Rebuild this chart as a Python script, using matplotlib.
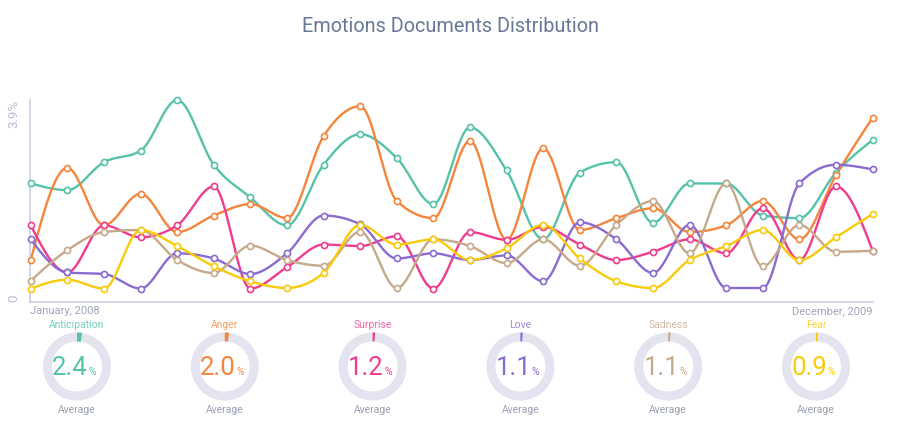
import numpy as np
import matplotlib
matplotlib.use("Agg")
import matplotlib.pyplot as plt
from matplotlib.patches import Wedge

plt.rcParams['font.family'] = ['Roboto', 'DejaVu Sans']

# ---------------- data ----------------
months = ["January, 2008", "December, 2009"]
emotions = ["Anticipation", "Anger", "Surprise", "Love", "Sadness", "Fear"]
colors = ["#55c2a9", "#f4853b", "#ef3c8e", "#8a6bd0", "#c6a98a", "#f8cb0a"]
averages = [2.4, 2.0, 1.2, 1.1, 1.1, 0.9]

anticipation = [2.29, 2.16, 2.70, 2.92, 3.90, 2.65, 2.02, 1.48, 2.65, 3.24, 2.78, 1.89,
                3.37, 2.54, 1.21, 2.50, 2.70, 1.53, 2.29, 2.29, 1.67, 1.62, 2.50, 3.13]
anger = [0.81, 2.59, 1.48, 2.09, 1.35, 1.67, 1.89, 1.62, 3.20, 3.78, 1.95, 1.62,
         3.11, 1.20, 2.97, 1.39, 1.62, 1.81, 1.35, 1.48, 1.95, 1.21, 2.45, 3.56]
surprise = [1.48, 0.57, 1.48, 1.25, 1.48, 2.23, 0.26, 0.67, 1.11, 1.08, 1.27, 0.26,
            1.35, 1.20, 1.45, 1.11, 0.81, 0.97, 1.21, 0.94, 1.81, 0.81, 2.23, 0.99]
love = [1.21, 0.57, 0.54, 0.26, 0.94, 0.84, 0.54, 0.94, 1.67, 1.50, 0.84, 0.94,
        0.81, 0.90, 0.40, 1.54, 1.21, 0.56, 1.49, 0.27, 0.27, 2.29, 2.65, 2.56]
sadness = [0.41, 1.00, 1.35, 1.39, 0.81, 0.56, 1.09, 0.81, 0.70, 1.36, 0.27, 1.21,
           1.08, 0.75, 1.21, 0.70, 1.49, 1.95, 0.94, 2.29, 0.69, 1.49, 0.97, 0.99]
fear = [0.26, 0.43, 0.26, 1.39, 1.08, 0.69, 0.40, 0.27, 0.56, 1.49, 1.11, 1.21,
        0.81, 1.04, 1.49, 0.84, 0.40, 0.27, 0.81, 1.08, 1.39, 0.81, 1.25, 1.70]
series = [anticipation, anger, surprise, love, sadness, fear]
y_max = 3.9


def monotone_x(x, y, n=30):
    """d3 curveMonotoneX style interpolation."""
    x = np.asarray(x, float)
    y = np.asarray(y, float)
    m = len(x)
    h = np.diff(x)
    s = np.diff(y) / h
    t = np.zeros(m)
    for i in range(1, m - 1):
        h0, h1 = h[i - 1], h[i]
        s0, s1 = s[i - 1], s[i]
        p = (s0 * h1 + s1 * h0) / (h0 + h1)
        t[i] = (np.sign(s0) + np.sign(s1)) * min(abs(s0), abs(s1), 0.5 * abs(p))
    t[0] = (3 * s[0] - t[1]) / 2
    t[-1] = (3 * s[-1] - t[-2]) / 2
    xs, ys = [], []
    for i in range(m - 1):
        u = np.linspace(0, 1, n, endpoint=(i == m - 2))
        hh = h[i]
        h00 = 2 * u**3 - 3 * u**2 + 1
        h10 = u**3 - 2 * u**2 + u
        h01 = -2 * u**3 + 3 * u**2
        h11 = u**3 - u**2
        xs.append(x[i] + u * hh)
        ys.append(h00 * y[i] + h10 * hh * t[i] + h01 * y[i + 1] + h11 * hh * t[i + 1])
    return np.concatenate(xs), np.concatenate(ys)


W, H = 900, 429
fig = plt.figure(figsize=(W / 100, H / 100), dpi=100)
fig.patch.set_facecolor("white")

# main line chart
left, right, top, bottom = 30, 873, 100, 302
ax = fig.add_axes([left / W, (H - bottom) / H, (right - left) / W, (bottom - top) / H])
ax.set_xlim(-0.02, 23.01)
ax.set_ylim(0, y_max)
for sp in ["top", "right"]:
    ax.spines[sp].set_visible(False)
for sp in ["left", "bottom"]:
    ax.spines[sp].set_color("#c9cfe3")
    ax.spines[sp].set_linewidth(1.2)
ax.set_xticks([])
ax.set_yticks([])
ax.patch.set_alpha(0)

xi = np.arange(len(anticipation))
for vals, c in zip(series, colors):
    sx, sy = monotone_x(xi, vals)
    ax.plot(sx, sy, color=c, lw=1.7, clip_on=False, solid_capstyle="round", zorder=2)
for vals, c in zip(series, colors):
    ax.plot(xi, vals, ls="none", marker="o", ms=4.4, mfc="white", mec=c, mew=1.2,
            clip_on=False, zorder=3)

tick_col = "#b9bdcf"
ax.text(-0.011, 1.0, "3.9%", transform=ax.transAxes, rotation=90, ha="right", va="top",
        fontsize=9.5, color=tick_col)
ax.text(-0.011, 0.0, "0", transform=ax.transAxes, rotation=90, ha="right", va="bottom",
        fontsize=9.5, color=tick_col)
ax.text(0.0, -0.02, months[0], transform=ax.transAxes, ha="left", va="top",
        fontsize=8, color="#a0a5b9")
ax.text(1.0, -0.02, months[1], transform=ax.transAxes, ha="right", va="top",
        fontsize=8, color="#a0a5b9")

fig.text(0.5, 1 - 26 / H, "Emotions Documents Distribution", ha="center", va="center",
         fontsize=14.3, color="#6a7898")

# donuts
ov = fig.add_axes([0, 0, 1, 1])
ov.set_xlim(0, W)
ov.set_ylim(0, H)
ov.axis("off")
ov.patch.set_alpha(0)

cx0, dx, cy = 77, 147.8, 366.5
R, wd = 34, 9
for k, (name, c, avg) in enumerate(zip(emotions, colors, averages)):
    cx = cx0 + k * dx
    yc = H - cy
    ov.add_patch(Wedge((cx, yc), R, 0, 360, width=wd, facecolor="#e4e4f0", edgecolor="none"))
    ov.add_patch(Wedge((cx, yc), R, 90 - 360 * avg / 100, 90, width=wd, facecolor=c,
                       edgecolor="none"))
    ov.text(cx, H - 325, name, ha="center", va="center", fontsize=7.5, color=c, alpha=0.8)
    ov.text(cx + 11, H - 375, f"{avg:.1f}", ha="right", va="baseline", fontsize=18.5,
            color=c)
    ov.text(cx + 11.5, H - 375, "%", ha="left", va="baseline", fontsize=7.5, color=c)
    ov.text(cx, H - 410, "Average", ha="center", va="center", fontsize=7.5, color="#9a9fb3")

fig.savefig("out.png", dpi=100, facecolor="white")
